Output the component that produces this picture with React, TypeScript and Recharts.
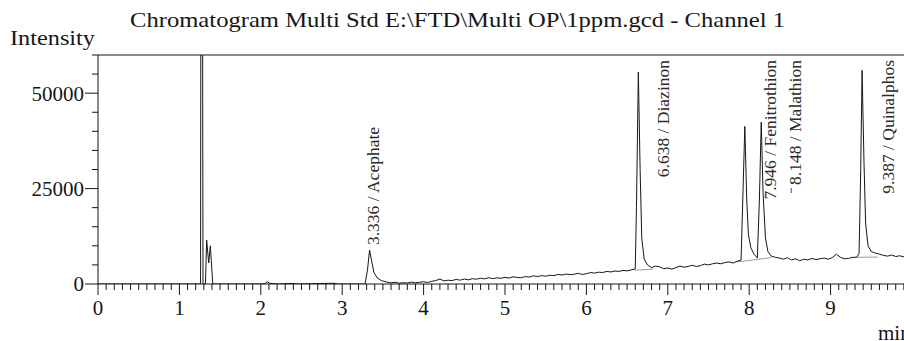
import { LineChart, Line, XAxis, YAxis, ReferenceLine, LabelList } from "recharts";

// retention time (min) / detector intensity
const traceTime = [
  0, 1.2, 1.26, 1.272, 1.29, 1.32, 1.335, 1.36, 1.38, 1.41,
  1.6, 2.0, 2.05, 2.08, 2.11, 2.2, 2.4, 2.45, 2.9, 2.95, 3.2,
  3.28, 3.31, 3.336, 3.36, 3.39, 3.43, 3.48, 3.55,
  3.6, 3.65, 3.7, 3.75, 3.8, 3.85, 3.9, 3.95, 4.0, 4.05, 4.1, 4.15, 4.2, 4.25,
  4.3, 4.35, 4.4, 4.45, 4.5, 4.55, 4.6, 4.65, 4.7, 4.75, 4.8, 4.85, 4.9, 4.95,
  5.0, 5.05, 5.1, 5.15, 5.2, 5.25, 5.3, 5.35, 5.4, 5.45, 5.5, 5.55, 5.6, 5.65,
  5.7, 5.75, 5.8, 5.85, 5.9, 5.95, 6.0, 6.05, 6.1, 6.15, 6.2, 6.25, 6.3, 6.35,
  6.4, 6.45, 6.5, 6.55, 6.6, 6.615, 6.638, 6.66, 6.68, 6.71, 6.75, 6.8,
  6.85, 6.9, 6.95, 7.0, 7.05, 7.1, 7.15, 7.2, 7.25, 7.3, 7.35, 7.4, 7.45, 7.5,
  7.55, 7.6, 7.65, 7.7, 7.75, 7.8, 7.85, 7.9, 7.925, 7.946, 7.97, 7.99, 8.02,
  8.06, 8.1, 8.125, 8.148, 8.17, 8.2, 8.23, 8.27,
  8.32, 8.37, 8.42, 8.47, 8.52, 8.57, 8.62, 8.67, 8.72, 8.77, 8.82, 8.87, 8.92,
  8.97, 9.02, 9.07, 9.12, 9.17, 9.22, 9.27, 9.32, 9.35, 9.37, 9.387, 9.41, 9.43,
  9.46, 9.5, 9.55, 9.6, 9.65, 9.7, 9.75, 9.8, 9.85, 9.9, 9.95, 10,
];
const traceIntensity = [
  0, 0, 0, 250000, 0, 0, 11500, 5500, 10000, 0,
  0, 0, 100, 600, 200, 0, 150, 0, 200, 0, 0,
  0, 3500, 8900, 6200, 3000, 1600, 900, 500,
  300, 450, 200, 350, 250, 500, 300, 450, 600, 400, 700, 900, 1300, 800,
  1000, 900, 1200, 1000, 1300, 1100, 1400, 1250, 1500, 1350, 1650, 1400, 1600, 1500,
  1750, 1550, 1900, 1700, 1650, 1950, 1800, 2150, 1950, 2200, 2050, 2300, 2200, 2500,
  2350, 2600, 2450, 2550, 2800, 2500, 2700, 3000, 2850, 3100, 3000, 3300, 3150, 3400,
  3300, 3550, 3450, 3700, 3900, 20000, 55500, 30000, 12000, 6500, 5000, 4300,
  4700, 4500, 4000, 4200, 3900, 4300, 4700, 4400, 4600, 4900, 4600, 4800, 5200, 5000,
  5300, 5500, 5300, 5600, 5800, 5500, 5900, 6300, 25000, 41300, 22000, 13000, 9500,
  7800, 6800, 22000, 42400, 24000, 12000, 8500, 7300,
  7000, 6800, 6500, 6900, 6300, 6600, 6100, 6500, 6300, 6700, 6400, 6600, 6800,
  6500, 6900, 7800, 7000, 6600, 6700, 7000, 7000, 8000, 30000, 56000, 32000, 16000,
  10000, 8500, 8100, 7800, 7500, 7300, 7600, 7200, 7400, 7100, 7300, 7200,
];

const peakTime = [3.336, 6.638, 7.946, 8.148, 9.387];
const peakHeight = [8900, 55500, 41300, 42400, 56000];
const peakName = ["Acephate", "Diazinon", "Fenitrothion", "Malathion", "Quinalphos"];

// integration baselines drawn under the peaks: [start, end] as [time, intensity]
const integrationBaselines = [
  [[6.6, 3600], [6.82, 3900]],
  [[7.86, 5800], [8.27, 6900]],
  [[9.32, 7000], [9.58, 7050]],
];

const xLabels = [0, 1, 2, 3, 4, 5, 6, 7, 8, 9];
const yLabels = [0, 25000, 50000];

const traceData = traceTime.map((t, i) => ({ t, v: traceIntensity[i] }));
const peakData = peakTime.map((t, i) => ({
  t,
  v: peakHeight[i],
  label: `${t.toFixed(3)} / ${peakName[i]}`,
}));
const baselineData = integrationBaselines.map((seg) => seg.map(([t, v]) => ({ t, v })));

const xTicks = Array.from({ length: 101 }, (_, i) => i / 10);
const yTicks = Array.from({ length: 13 }, (_, i) => i * 5000);

const FONT = '"Liberation Serif", "Times New Roman", serif';
const INK = "#161616";

function XTick({ x, y, payload }: any) {
  const v = payload.value;
  const major = xLabels.some((l) => Math.abs(l - v) < 1e-6);
  return (
    <g>
      <line x1={x} x2={x} y1={y} y2={y + (major ? 11 : 6)} stroke={INK} />
      {major && (
        <text x={x} y={y + 31} textAnchor="middle" fontSize={21} fill={INK} fontFamily={FONT}>
          {Math.round(v)}
        </text>
      )}
    </g>
  );
}

function YTick({ x, y, payload }: any) {
  const major = yLabels.includes(payload.value);
  return (
    <g>
      <line x1={x - (major ? 13 : 6)} x2={x} y1={y} y2={y} stroke={INK} />
      {major && (
        <text x={x - 14} y={y} dy="0.35em" textAnchor="end" fontSize={21} fill={INK} fontFamily={FONT}>
          {payload.value}
        </text>
      )}
    </g>
  );
}

// labels of the big peaks hang from the top of the plot, the small one sits on its peak
const labelShift = [3, 25, 25, 34, 26];
function PeakLabel({ x, y, value, index }: any) {
  const px = x + labelShift[index];
  const low = peakHeight[index] < 30000;
  const py = low ? y - 5 : 60;
  return (
    <g>
      <text
        x={px}
        y={py}
        transform={`rotate(-90, ${px}, ${py})`}
        textAnchor={low ? "start" : "end"}
        dominantBaseline="central"
        fontSize={17.5}
        fill="#2a2a2a"
        fontFamily={FONT}
      >
        {value}
      </text>
      {index === 3 && <line x1={px - 4} x2={px - 4} y1={188} y2={193} stroke="#3344ee" />}
    </g>
  );
}

export default function App() {
  return (
    <div
      style={{
        position: "absolute",
        left: 0,
        top: 0,
        width: 904,
        height: 341,
        overflow: "hidden",
        background: "#fff",
        fontFamily: FONT,
      }}
    >
      <LineChart width={920} height={341} margin={{ top: 55, right: 8, bottom: 0, left: 0 }}>
        <XAxis
          dataKey="t"
          type="number"
          domain={[0, 10]}
          allowDataOverflow
          ticks={xTicks}
          interval={0}
          tickSize={0}
          tickMargin={0}
          tick={<XTick />}
          height={57}
          axisLine={{ stroke: INK }}
        />
        <YAxis
          type="number"
          domain={[0, 60000]}
          allowDataOverflow
          ticks={yTicks}
          interval={0}
          tickSize={0}
          tickMargin={0}
          tick={<YTick />}
          width={98}
          axisLine={{ stroke: INK }}
        />
        <ReferenceLine y={60000} stroke={INK} />
        {baselineData.map((seg, i) => (
          <Line
            key={i}
            data={seg}
            dataKey="v"
            stroke="#9a9a9a"
            strokeWidth={1}
            dot={false}
            isAnimationActive={false}
          />
        ))}
        <Line
          data={traceData}
          dataKey="v"
          type="linear"
          stroke={INK}
          strokeWidth={1}
          dot={false}
          isAnimationActive={false}
        />
        <Line data={peakData} dataKey="v" stroke="none" dot={false} isAnimationActive={false}>
          <LabelList dataKey="label" content={<PeakLabel />} />
        </Line>
      </LineChart>
      <svg
        width={904}
        height={341}
        style={{ position: "absolute", left: 0, top: 0, pointerEvents: "none" }}
      >
        <text
          x={130}
          y={27}
          textLength={655}
          lengthAdjust="spacingAndGlyphs"
          fontSize={22}
          fill={INK}
          fontFamily={FONT}
        >
          {"Chromatogram Multi Std E:\\FTD\\Multi OP\\1ppm.gcd - Channel 1"}
        </text>
        <text
          x={10}
          y={45}
          textLength={85}
          lengthAdjust="spacingAndGlyphs"
          fontSize={22}
          fill={INK}
          fontFamily={FONT}
        >
          Intensity
        </text>
        <text x={878} y={340} fontSize={21} fill={INK} fontFamily={FONT}>
          min
        </text>
      </svg>
    </div>
  );
}
